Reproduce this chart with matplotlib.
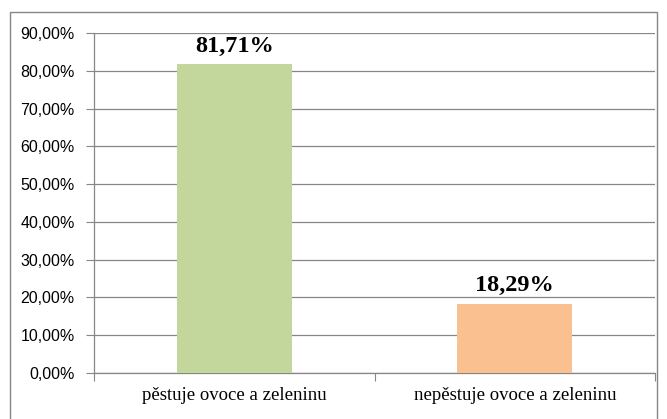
import matplotlib
matplotlib.use("Agg")
import matplotlib.pyplot as plt
from matplotlib.patches import Rectangle
from matplotlib.ticker import FuncFormatter, MultipleLocator

categories = ["pěstuje ovoce a zeleninu", "nepěstuje ovoce a zeleninu"]
values = [81.71, 18.29]
labels = ["81,71%", "18,29%"]
colors = ["#C3D69B", "#FAC090"]

fig = plt.figure(figsize=(6.67, 4.19), dpi=100)
ax = fig.add_axes([0.141, 0.110, 0.841, 0.811])

x = range(len(categories))
ax.bar(x, values, width=0.41, color=colors, zorder=3)
for xi, v, lab in zip(x, values, labels):
    ax.text(xi, v + 2.0, lab, ha="center", va="bottom", fontsize=17.5,
            fontweight="bold", family="Liberation Serif", zorder=4)

ax.set_xlim(-0.5, 1.5)
ax.set_ylim(0, 90)
ax.yaxis.set_major_locator(MultipleLocator(10))
ax.yaxis.set_major_formatter(FuncFormatter(lambda v, p: f"{v:.2f}".replace(".", ",") + "%"))
ax.grid(axis="y", color="#868686", linewidth=0.9, zorder=0)
for s in ["top", "right"]:
    ax.spines[s].set_visible(False)
for s in ["left", "bottom"]:
    ax.spines[s].set_color("#868686")
    ax.spines[s].set_linewidth(0.9)

ax.set_xticks([-0.5, 0.5, 1.5])
ax.set_xticklabels([])
ax.set_xticks([0, 1], minor=True)
ax.set_xticklabels(categories, minor=True, fontsize=13.5, family="Liberation Serif")
ax.tick_params(axis="x", which="minor", length=0, pad=10)
ax.tick_params(axis="x", which="major", length=6, color="#868686")
ax.tick_params(axis="y", length=6, color="#868686", labelsize=11.5, pad=8)
for t in ax.get_yticklabels():
    t.set_family("Liberation Sans")

fig.patches.append(Rectangle((0.015, -0.05), 0.97, 1.021, transform=fig.transFigure,
                             fill=False, edgecolor="#868686", linewidth=1.0))

fig.savefig("out.png", dpi=100)
